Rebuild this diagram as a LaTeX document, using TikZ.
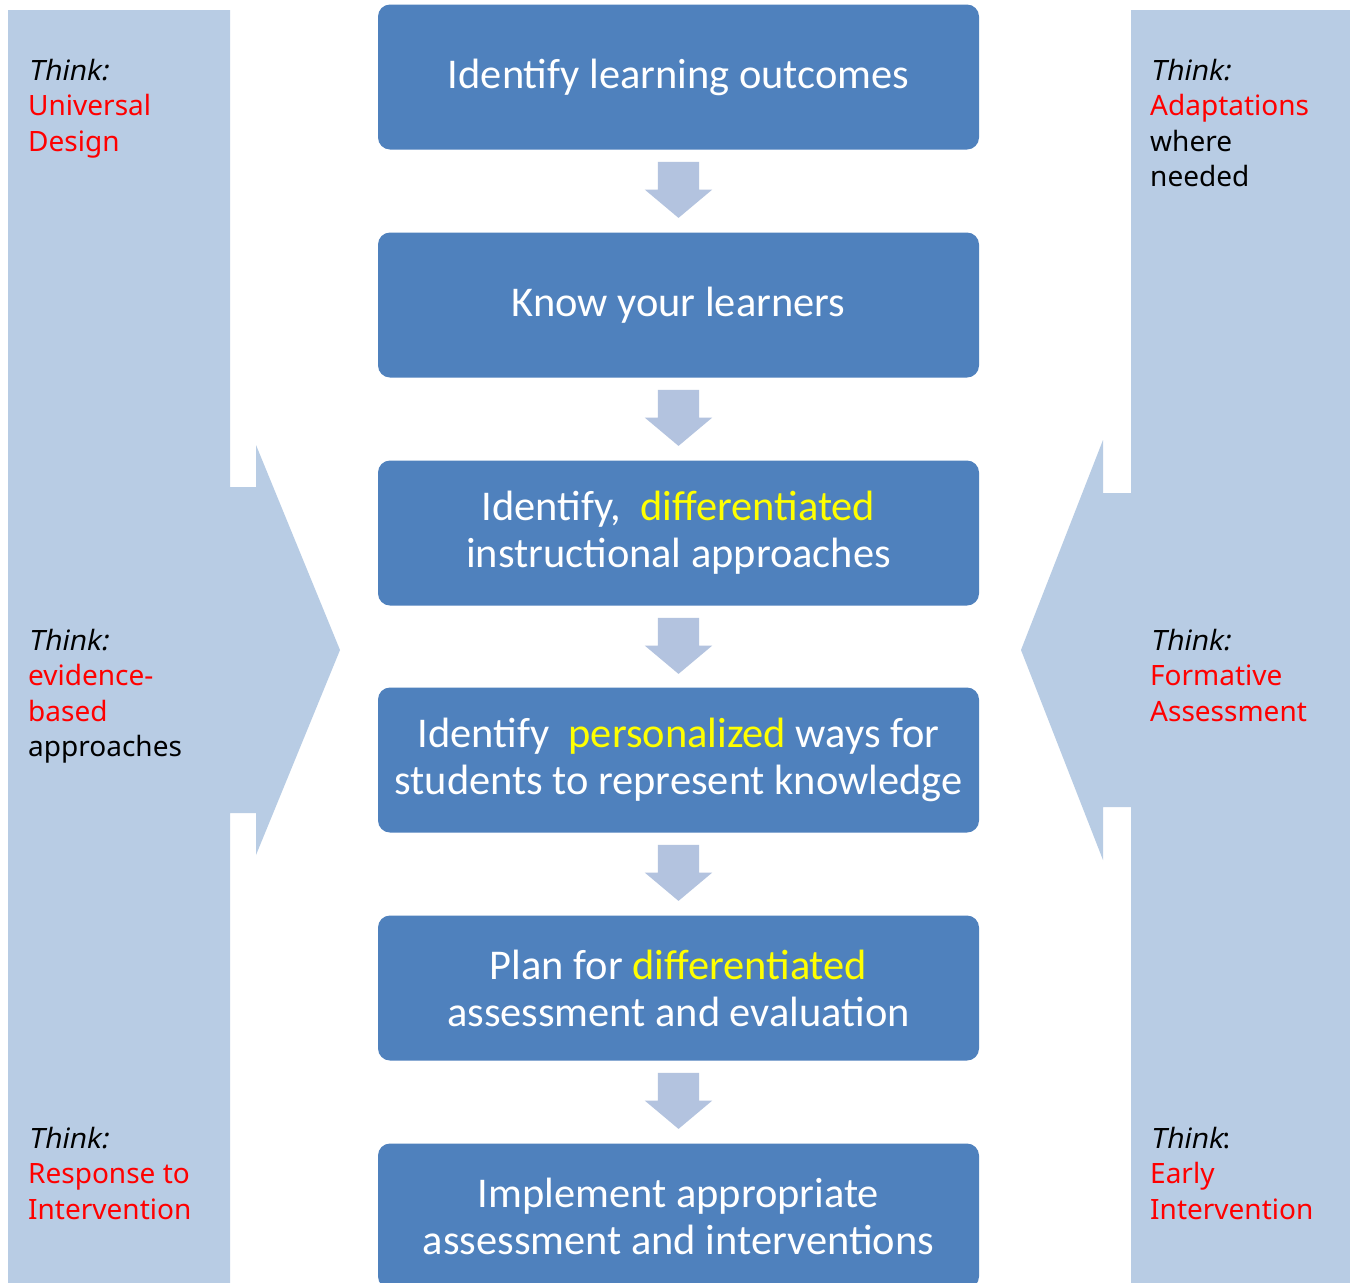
\documentclass[tikz,border=0pt]{standalone}
\usepackage{fontspec}
\setmainfont{Carlito}
\newfontfamily\thinkfont[ItalicFont=Noto Sans, ItalicFeatures={FakeSlant=0.2}]{Noto Sans}
\usetikzlibrary{shapes.arrows,calc}

\definecolor{stepblue}{HTML}{4F81BD}
\definecolor{sideblue}{HTML}{B8CCE4}
\definecolor{arrowblue}{HTML}{B3C3DF}
\definecolor{hilite}{HTML}{FFFF00}
\definecolor{thinkred}{HTML}{FF0000}

\tikzset{
  stepbox/.style={rectangle, rounded corners=12pt, fill=stepblue, text=white,
    minimum width=601pt, minimum height=145pt, inner sep=0pt, align=center,
    font=\fontsize{42.4}{47}\selectfont},
  downarrow/.style={single arrow, rotate=-90, anchor=tail, fill=arrowblue,
    inner xsep=0pt, inner ysep=20.5pt, minimum height=56pt, minimum width=67pt,
    single arrow head extend=13pt, single arrow tip angle=100},
  thinknote/.style={anchor=north west, align=left, inner sep=0pt,
    font=\thinkfont\fontsize{28}{35.3}\selectfont},
}

\begin{document}
\begin{tikzpicture}[x=1pt, y=-1pt]

\useasboundingbox[fill=white] (0,0) rectangle (1350,1283);

% side panels with their pointers
\fill[sideblue] (8,10) -- (230,10) -- (230,487) -- (256,487) -- (256,445) -- (340,650)
  -- (256,855) -- (256,813) -- (230,813) -- (230,1283) -- (8,1283) -- cycle;
\fill[sideblue] (1350,10) -- (1131,10) -- (1131,493) -- (1103,493) -- (1103,440) -- (1021,650)
  -- (1103,860) -- (1103,807) -- (1131,807) -- (1131,1283) -- (1350,1283) -- cycle;

% steps
\node[stepbox] (outcomes) at (678.5,77) {Identify learning outcomes};
\node[stepbox] (learners) at (678.5,305) {Know your learners};
\node[stepbox] (approaches) at (678.5,533) {Identify,\ \ \textcolor{hilite}{differentiated}\\instructional approaches};
\node[stepbox] (represent) at (678.5,760) {Identify\ \ \textcolor{hilite}{personalized} ways for\\students to represent knowledge};
\node[stepbox] (plan) at (678.5,988) {Plan for \textcolor{hilite}{differentiated}\\assessment and evaluation};
\node[stepbox] (implement) at (678.5,1216) {Implement appropriate\\assessment and interventions};

% arrows between steps
\node[downarrow] (a1) at ($(outcomes.south)+(0,12)$) {};
\node[downarrow] (a2) at ($(learners.south)+(0,12)$) {};
\node[downarrow] (a3) at ($(approaches.south)+(0,12)$) {};
\node[downarrow] (a4) at ($(represent.south)+(0,12)$) {};
\node[downarrow] (a5) at ($(plan.south)+(0,12)$) {};

% left notes
\node[thinknote] (udl) at (28,59) {\textit{Think:}\\\textcolor{thinkred}{Universal}\\\textcolor{thinkred}{Design}};
\node[thinknote] (evidence) at (28,629) {\textit{Think:}\\\textcolor{thinkred}{evidence-}\\\textcolor{thinkred}{based}\\approaches};
\node[thinknote] (rti) at (28,1127) {\textit{Think:}\\\textcolor{thinkred}{Response to}\\\textcolor{thinkred}{Intervention}};

% right notes
\node[thinknote] (adapt) at (1150,59) {\textit{Think:}\\\textcolor{thinkred}{Adaptations}\\where\\needed};
\node[thinknote] (formative) at (1150,629) {\textit{Think:}\\\textcolor{thinkred}{Formative}\\\textcolor{thinkred}{Assessment}};
\node[thinknote] (early) at (1150,1127) {\textit{Think}:\\\textcolor{thinkred}{Early}\\\textcolor{thinkred}{Intervention}};

\end{tikzpicture}
\end{document}
